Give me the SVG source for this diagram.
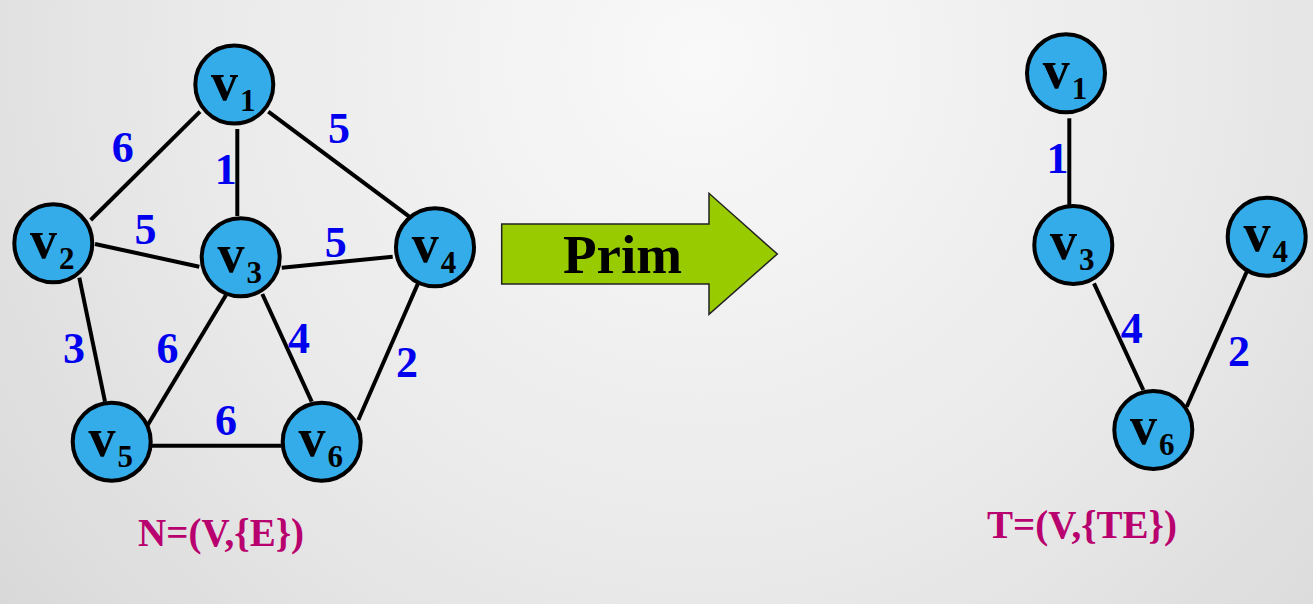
<svg xmlns="http://www.w3.org/2000/svg" width="1313" height="604" viewBox="0 0 1313 604">
<defs>
<radialGradient id="bg" gradientUnits="userSpaceOnUse" cx="700" cy="60" r="950">
<stop offset="0" stop-color="#f9f9f9"/>
<stop offset="0.55" stop-color="#e9e9e9"/>
<stop offset="1" stop-color="#d6d6d6"/>
</radialGradient>
<style>
.node circle{fill:#35ACEA;stroke:#000;stroke-width:4}
.node text{font-family:"Liberation Serif",serif;font-weight:bold;font-size:54px;fill:#000;text-anchor:middle}
.node tspan{font-size:31px}
.edges line{stroke:#000;stroke-width:4}
.w{font-family:"Liberation Serif",serif;font-weight:bold;font-size:44px;fill:#0000EE;text-anchor:middle}
.cap{font-family:"Liberation Serif",serif;font-weight:bold;font-size:39px;fill:#B8006E;text-anchor:middle}
</style>
</defs>
<rect width="1313" height="604" fill="url(#bg)"/>

<g id="connectors" class="edges">
<line x1="200" y1="111.7" x2="90.7" y2="220"/>
<line x1="237.3" y1="129" x2="237.3" y2="216"/>
<line x1="268.3" y1="111.7" x2="409.3" y2="216.7"/>
<line x1="95" y1="244" x2="199.3" y2="266.7"/>
<line x1="281.7" y1="267.7" x2="392.7" y2="256.7"/>
<line x1="79.3" y1="277.7" x2="105" y2="401.7"/>
<line x1="226" y1="295" x2="146.7" y2="426.7"/>
<line x1="262.3" y1="294" x2="311.7" y2="401.7"/>
<line x1="420.7" y1="277.3" x2="358.3" y2="420"/>
<line x1="151.7" y1="445.7" x2="281.7" y2="445.7"/>
<line x1="1069.3" y1="118.3" x2="1069.3" y2="205"/>
<line x1="1094" y1="283.3" x2="1143.3" y2="390"/>
<line x1="1248.3" y1="268.3" x2="1186.7" y2="406.7"/>
</g>

<g id="weights">
<text class="w" x="122.7" y="161.7">6</text>
<text class="w" x="225.8" y="184">1</text>
<text class="w" x="339" y="143.3">5</text>
<text class="w" x="145.5" y="244">5</text>
<text class="w" x="335.8" y="256.7">5</text>
<text class="w" x="74" y="362.7">3</text>
<text class="w" x="167.5" y="362.7">6</text>
<text class="w" x="299" y="353.3">4</text>
<text class="w" x="407" y="377.3">2</text>
<text class="w" x="226" y="435">6</text>
<text class="w" x="1057.5" y="172.7">1</text>
<text class="w" x="1131.7" y="342.7">4</text>
<text class="w" x="1239" y="366">2</text>
</g>

<g id="L_v1" class="node"><circle cx="234.3" cy="84.5" r="39"/><text x="233.3" y="100">v<tspan dx="2" dy="11">1</tspan></text></g>
<g id="L_v2" class="node"><circle cx="53.3" cy="243.3" r="39"/><text x="52.3" y="257.6">v<tspan dx="2" dy="11">2</tspan></text></g>
<g id="L_v3" class="node"><circle cx="240.7" cy="257.3" r="39"/><text x="239.7" y="271.6">v<tspan dx="2" dy="11">3</tspan></text></g>
<g id="L_v4" class="node"><circle cx="435" cy="247.3" r="39"/><text x="434" y="261.6">v<tspan dx="2" dy="11">4</tspan></text></g>
<g id="L_v5" class="node"><circle cx="111.7" cy="441.7" r="39"/><text x="110.7" y="456">v<tspan dx="2" dy="11">5</tspan></text></g>
<g id="L_v6" class="node"><circle cx="321.7" cy="441.7" r="39"/><text x="320.7" y="456">v<tspan dx="2" dy="11">6</tspan></text></g>

<g id="R_v1" class="node"><circle cx="1066" cy="73.3" r="39"/><text x="1065" y="87.6">v<tspan dx="2" dy="11">1</tspan></text></g>
<g id="R_v3" class="node"><circle cx="1073.3" cy="245" r="39"/><text x="1072.3" y="259.3">v<tspan dx="2" dy="11">3</tspan></text></g>
<g id="R_v4" class="node"><circle cx="1266.7" cy="236.7" r="39"/><text x="1265.7" y="251">v<tspan dx="2" dy="11">4</tspan></text></g>
<g id="R_v6" class="node"><circle cx="1153.3" cy="430" r="39"/><text x="1152.3" y="444.3">v<tspan dx="2" dy="11">6</tspan></text></g>

<g id="arrow">
<polygon points="501.7,224 709,224 709,193.3 777.3,254 709,314.3 709,284 501.7,284" fill="#99CC00" stroke="#222" stroke-width="1.5"/>
<text x="622.5" y="272.7" font-family="'Liberation Serif',serif" font-weight="bold" font-size="55" text-anchor="middle" fill="#000">Prim</text>
</g>

<text id="capN" class="cap" x="221" y="545.5">N=(V,{E})</text>
<text id="capT" class="cap" x="1082" y="538.3">T=(V,{TE})</text>
</svg>
